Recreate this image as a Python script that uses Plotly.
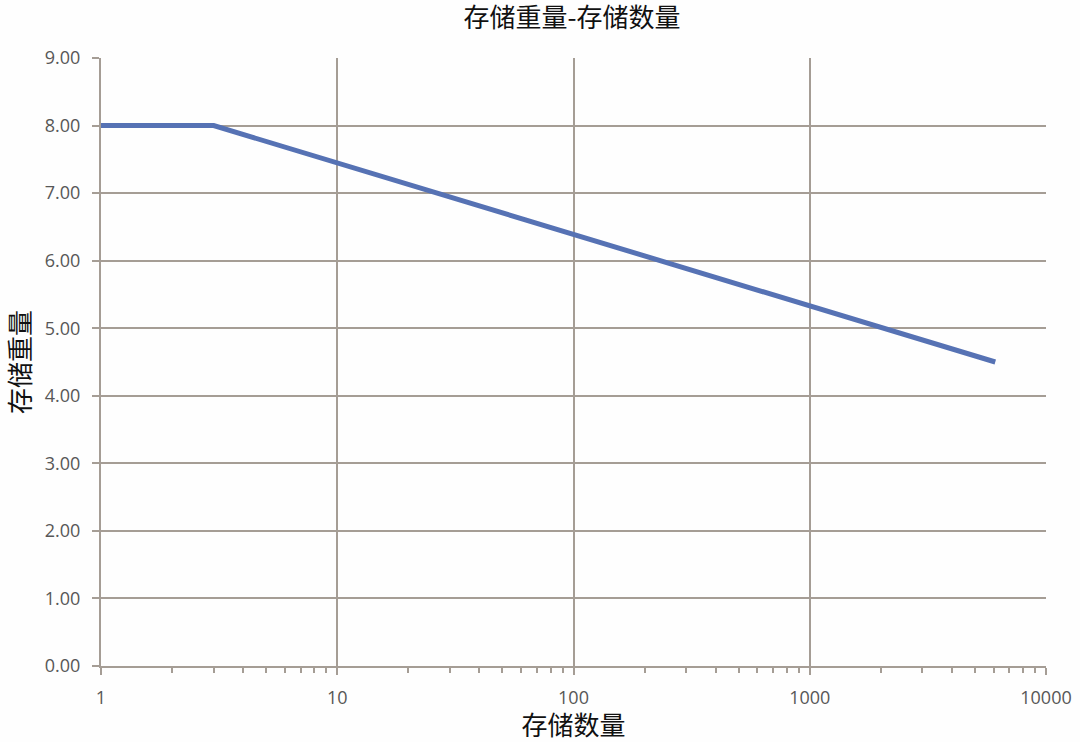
import plotly.graph_objects as go

quantity = [1, 3, 6100]
weight = [8.0, 8.0, 4.5]
y_ticks = [0, 1, 2, 3, 4, 5, 6, 7, 8, 9]
y_tick_labels = [f"{v:.2f}" for v in y_ticks]
x_ticks = [1, 10, 100, 1000, 10000]
x_tick_labels = ["1", "10", "100", "1000", "10000"]

grid = "#a59d95"
cjk = "Noto Sans CJK SC"
W, H = 1080, 742

fig = go.Figure()
fig.add_trace(go.Scatter(x=quantity, y=weight, mode="lines",
                         line=dict(color="#5672b4", width=5), showlegend=False))

fig.update_layout(
    width=W, height=H,
    paper_bgcolor="#fefefe", plot_bgcolor="#fefefe",
    margin=dict(l=101, r=34, t=58, b=76),
    title=dict(text="存储重量-存储数量", x=572 / W, xanchor="center", y=1 - 18 / H, yanchor="middle",
               font=dict(family=cjk, size=26, color="#111")),
    font=dict(family="Open Sans, Liberation Sans", size=18, color="#575757"),
)
fig.update_xaxes(
    type="log", range=[0, 4], tickvals=x_ticks, ticktext=x_tick_labels,
    automargin=False,
    showgrid=True, gridcolor=grid, gridwidth=2,
    showline=True, linecolor=grid, linewidth=2,
    ticks="outside", ticklen=7, tickcolor=grid, tickwidth=2,
    ticklabelstandoff=7,
    minor=dict(ticks="outside", ticklen=5, tickcolor=grid, tickwidth=2, dtick="D1", showgrid=False),
    zeroline=False,
    title=dict(text="存储数量", font=dict(family=cjk, size=26, color="#111"), standoff=9),
)
fig.update_yaxes(
    range=[0, 9], tickvals=y_ticks, ticktext=y_tick_labels,
    automargin=False,
    showgrid=True, gridcolor=grid, gridwidth=2,
    showline=True, linecolor=grid, linewidth=2,
    ticks="outside", ticklen=7, tickcolor=grid, tickwidth=2,
    ticklabelstandoff=8,
    zeroline=False,
    title=dict(text="存储重量", font=dict(family=cjk, size=26, color="#111"), standoff=26),
)
fig.write_html("out.html", config={"displayModeBar": False},
               post_script="document.body.style.margin='0';")
